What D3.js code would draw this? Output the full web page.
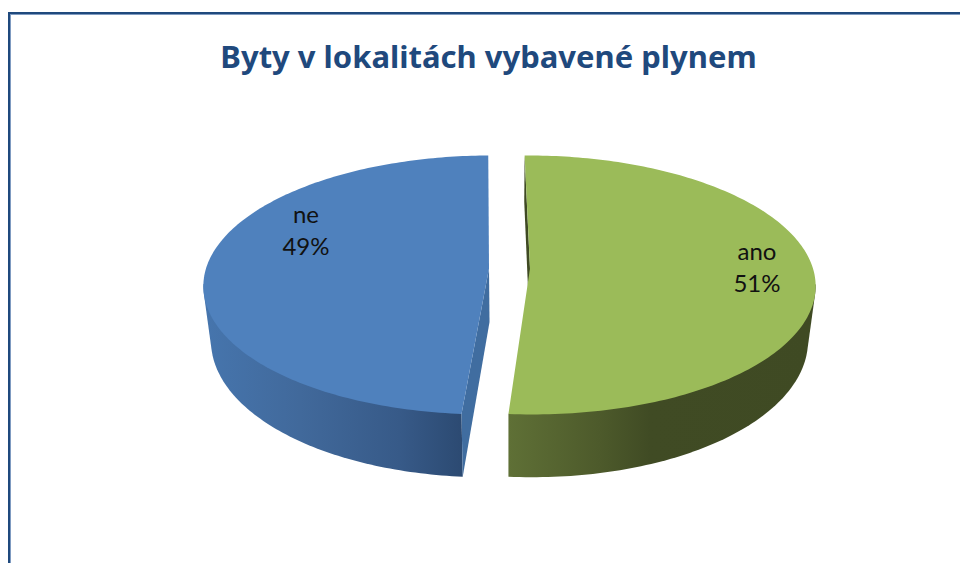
<!DOCTYPE html>
<html>
<head>
<meta charset="utf-8">
<style>
  html, body { margin: 0; padding: 0; background: #fff; }
  svg { display: block; }
  text { font-family: Lato, "Noto Sans", sans-serif; }
</style>
</head>
<body>
<div id="chart"></div>
<script src="https://d3js.org/d3.v7.min.js"></script>
<script>
// chart data
var chartTitle = 'Byty v lokalitách vybavené plynem';
var categories = ['ano', 'ne'];
var shares = [51.4, 48.6];
var colors = ['#9bbb59', '#4f81bd'];

var width = 960, height = 563;

// the pie is a flat disc seen through a camera: u is left-right, v is back-front
var perspective = 0.127,
	explode = 0.0724,
	centerX = 509.5,
	rx = 283,
	topPlane = { cy: 268.5, ry: 127.4, shrink: 1 },
	bottomPlane = { cy: 322, ry: 135.5, shrink: 0.975 };

var x = d3.scaleLinear().domain([-1, 1]).range([centerX - rx, centerX + rx]);

// project a point of the disc on one of the two planes
function project(u, v, plane) {
	var w = 1 - perspective * v;
	return [
		centerX + (x(u / w) - centerX) * plane.shrink,
		plane.cy + plane.ry * v / w
	];
}

var pie = d3.pie().sort(null).startAngle(-0.7 * Math.PI / 180).endAngle((360 - 0.7) * Math.PI / 180);
var slices = pie(shares);
var line = d3.line();

function rimPoint(angle, du) {
	return [du + Math.sin(angle), -Math.cos(angle)];
}

function rimAngles(d) {
	return d3.range(0, 181).map(function(i) {
		return d.startAngle + (d.endAngle - d.startAngle) * i / 180;
	});
}

function rim(angles, du, plane) {
	return angles.map(function(a) {
		var p = rimPoint(a, du);
		return project(p[0], p[1], plane);
	});
}

var svg = d3.select('#chart').append('svg').attr('width', width).attr('height', height);

// wall shading runs left to right, like the office gradient
var defs = svg.append('defs');
var wallStops = {
	ano: [[508, '#5f7036'], [600, '#4d5a2b'], [650, '#404b24'], [816, '#3f4a23']],
	ne: [[205, '#4675ad'], [300, '#41699b'], [400, '#375a88'], [462, '#2c4a72']]
};
categories.forEach(function(name) {
	var stops = wallStops[name];
	var g = defs.append('linearGradient')
		.attr('id', 'wall-' + name)
		.attr('gradientUnits', 'userSpaceOnUse')
		.attr('x1', stops[0][0]).attr('x2', stops[stops.length - 1][0])
		.attr('y1', 0).attr('y2', 0);
	stops.forEach(function(s) {
		g.append('stop')
			.attr('offset', (s[0] - stops[0][0]) / (stops[stops.length - 1][0] - stops[0][0]))
			.attr('stop-color', s[1]);
	});
});

// frame, runs off the right and bottom of the picture
svg.append('rect').attr('x', 10.5).attr('y', 14.5).attr('width', 1000).attr('height', 1000)
	.attr('fill', 'none').attr('stroke', '#7f9bc1').attr('stroke-width', 1);
svg.append('rect').attr('x', 9).attr('y', 13).attr('width', 1000).attr('height', 1000)
	.attr('fill', 'none').attr('stroke', '#1f497d').attr('stroke-width', 2);

// title
svg.append('text')
	.attr('x', 488.5).attr('y', 68)
	.attr('text-anchor', 'middle')
	.style('font-family', '"Noto Sans", sans-serif')
	.attr('font-size', 31).attr('font-weight', 700)
	.attr('fill', '#1f497d')
	.text(chartTitle);

var sliceGroups = svg.selectAll('g.slice').data(slices).enter().append('g').attr('class', 'slice');

sliceGroups.each(function(d, i) {
	var g = d3.select(this),
		name = categories[i],
		du = i === 0 ? explode : -explode,
		angles = rimAngles(d),
		topRim = rim(angles, du, topPlane),
		bottomRim = rim(angles, du, bottomPlane),
		topApex = project(du, 0, topPlane),
		bottomApex = project(du, 0, bottomPlane);

	// outer wall, only the front part of the rim shows. the hull gives the straight
	// silhouette between the wide points of the two planes
	var front = angles.filter(function(a) { return -Math.cos(a) >= perspective - 0.01; });
	var wallPoints = rim(front, du, topPlane).concat(rim(front, du, bottomPlane));
	g.append('path')
		.attr('d', line(d3.polygonHull(wallPoints)) + 'Z')
		.attr('fill', 'url(#wall-' + name + ')');

	// radial wall that faces the gap: the back one for ano, the front one for ne,
	// in both cases it starts at the first rim point
	g.append('path')
		.attr('d', line([topRim[0], bottomRim[0], bottomApex, topApex]) + 'Z')
		.attr('fill', i === 0 ? '#3f4a23' : '#406da0');

	// top face
	g.append('path')
		.attr('d', line(topRim.concat([topApex])) + 'Z')
		.attr('fill', colors[i]);
});

// data labels
var labelSpots = { ano: [757, 260], ne: [306, 223] };
sliceGroups.each(function(d, i) {
	var spot = labelSpots[categories[i]];
	var label = d3.select(this).append('text')
		.attr('text-anchor', 'middle')
		.attr('font-size', 24)
		.attr('fill', '#111');
	label.append('tspan').attr('x', spot[0]).attr('y', spot[1]).text(categories[i]);
	label.append('tspan').attr('x', spot[0]).attr('y', spot[1] + 32).text(Math.round(d.data) + '%');
});
</script>
</body>
</html>
